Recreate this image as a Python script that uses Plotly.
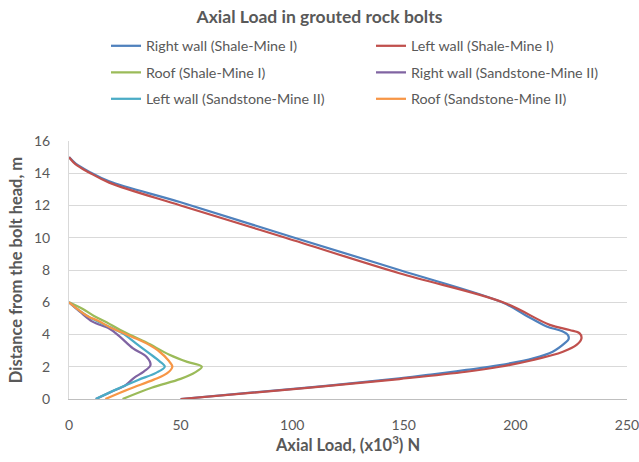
import plotly.graph_objects as go

# Axial load (x10^3 N) versus distance from the bolt head (m)
rw_shale_load = [0, 3, 9, 18, 50, 101, 148, 194, 204.5, 214, 221, 223.6, 223.8, 222, 216.7, 208, 193, 178, 163, 148, 103, 50]
rw_shale_dist = [15, 14.6, 14.1, 13.5, 12.2, 10, 8, 6, 5.2, 4.5, 4.2, 3.95, 3.7, 3.45, 2.93, 2.52, 2.1, 1.8, 1.53, 1.28, 0.66, 0]

lw_shale_load = [0, 3, 9, 18, 50, 97, 148, 194.4, 215.4, 224.3, 228.8, 229.6, 227.4, 221.3, 208, 193, 178, 148, 103, 50]
lw_shale_dist = [15, 14.55, 14.05, 13.42, 12.0, 10, 7.8, 6, 4.6, 4.28, 4.07, 3.76, 3.35, 2.93, 2.42, 2.0, 1.69, 1.24, 0.64, 0]

roof_shale_load = [0, 6, 11.2, 17, 22, 27, 34.7, 45, 53, 59.5, 56.5, 50, 37, 24]
roof_shale_dist = [6, 5.6, 5.15, 4.75, 4.35, 4.0, 3.5, 2.75, 2.3, 2.0, 1.65, 1.25, 0.7, 0]

rw_sand_load = [0, 5, 10.5, 18, 22.5, 28.7, 34.7, 36.5, 33.5, 29, 25.5, 19, 12]
rw_sand_dist = [6, 5.4, 4.8, 4.37, 3.9, 3.14, 2.62, 2.1, 1.7, 1.3, 0.87, 0.45, 0]

lw_sand_load = [0, 5, 10, 18, 24, 30, 36, 40.5, 42.9, 39, 31, 21, 12]
lw_sand_dist = [6, 5.45, 5.0, 4.48, 4.07, 3.45, 2.83, 2.35, 2.0, 1.62, 1.18, 0.58, 0]

roof_sand_load = [0, 8.2, 13, 19, 25, 30, 34.7, 40.6, 44.5, 46.3, 44, 38, 27, 16.3]
roof_sand_dist = [6, 5.15, 4.85, 4.4, 4.05, 3.75, 3.45, 2.93, 2.4, 2.0, 1.6, 1.2, 0.62, 0]

x_ticks = [0, 50, 100, 150, 200, 250]
y_ticks = [0, 2, 4, 6, 8, 10, 12, 14, 16]

series = [
    ("Right wall (Shale-Mine I)", rw_shale_load, rw_shale_dist, "#4F81BD", "legend"),
    ("Left wall (Shale-Mine I)", lw_shale_load, lw_shale_dist, "#C0504D", "legend"),
    ("Roof (Shale-Mine I)", roof_shale_load, roof_shale_dist, "#9BBB59", "legend2"),
    ("Right wall (Sandstone-Mine II)", rw_sand_load, rw_sand_dist, "#8064A2", "legend2"),
    ("Left wall (Sandstone-Mine II)", lw_sand_load, lw_sand_dist, "#4BACC6", "legend3"),
    ("Roof (Sandstone-Mine II)", roof_sand_load, roof_sand_dist, "#F79646", "legend3"),
]

FONT = "Lato"
TXT = "#595959"

fig = go.Figure()
for name, xs, ys, color, leg in series:
    fig.add_trace(go.Scatter(
        x=xs, y=ys, mode="lines", name=name, legend=leg,
        line=dict(color=color, width=2.25, shape="spline", smoothing=1.0),
    ))

def legend_row(y_px):
    return dict(
        orientation="h", xref="container", yref="container",
        x=106 / 639, y=1 - y_px / 462, xanchor="left", yanchor="middle",
        entrywidth=220, entrywidthmode="pixels",
        font=dict(family=FONT, size=14.3, color=TXT),
        bgcolor="rgba(0,0,0,0)", traceorder="normal",
    )

fig.update_layout(
    width=639, height=462,
    margin=dict(l=69, r=12, t=141, b=63, autoexpand=False),
    paper_bgcolor="white", plot_bgcolor="white",
    font=dict(family=FONT, color=TXT),
    title=dict(text="<b>Axial Load in grouted rock bolts</b>", x=0.5, xanchor="center",
               xref="container", y=1 - 17 / 462, yref="container", yanchor="middle",
               font=dict(family=FONT, size=17.5, color=TXT)),
    legend=legend_row(46),
    legend2=legend_row(72.5),
    legend3=legend_row(99),
    showlegend=True,
)

fig.update_xaxes(
    range=[0, 250], tickvals=x_ticks, ticks="", showgrid=False, automargin=False,
    showline=True, linecolor="#BFBFBF", linewidth=1, zeroline=False,
    tickfont=dict(family=FONT, size=14, color=TXT), ticklabelstandoff=13,
    ticklabeloverflow="allow",
    title=dict(text="<b>Axial Load, (x10<sup>3</sup>) N</b>", standoff=6,
               font=dict(family=FONT, size=16.5, color=TXT)),
)
fig.update_yaxes(
    range=[0, 16], tickvals=y_ticks, ticks="", showgrid=True, automargin=False,
    gridcolor="#D9D9D9", gridwidth=1, showline=True, linecolor="#D9D9D9",
    zeroline=False,
    tickfont=dict(family=FONT, size=14, color=TXT), ticklabelstandoff=15,
    title=dict(text="<b>Distance from the bolt head, m</b>", standoff=7,
               font=dict(family=FONT, size=16.5, color=TXT)),
)

fig.write_html("out.html")
